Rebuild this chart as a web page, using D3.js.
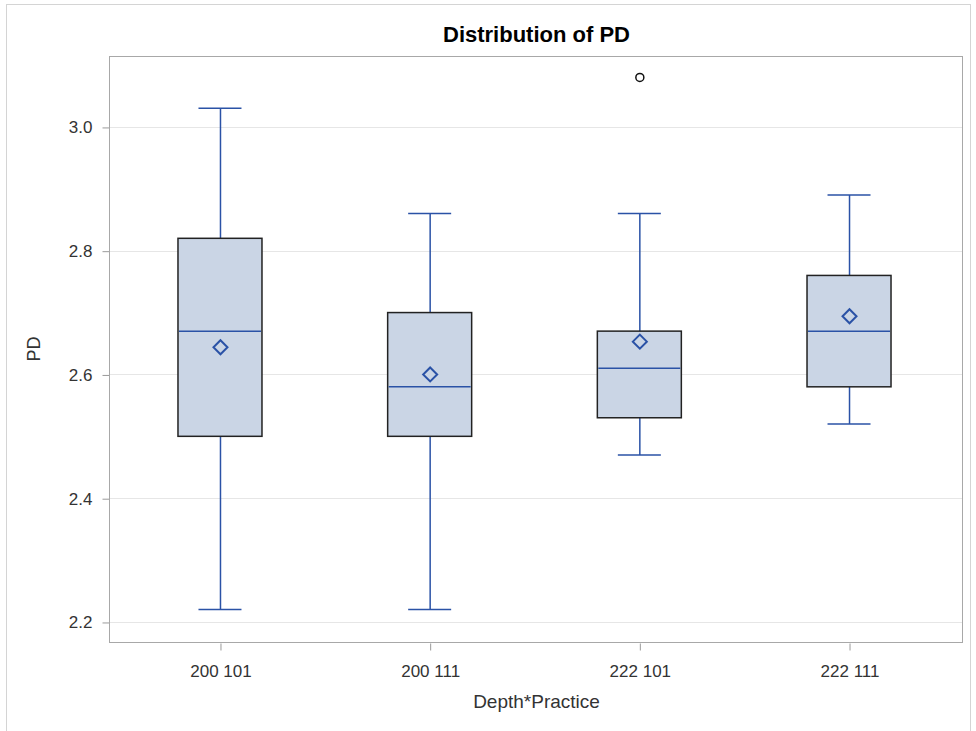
<!DOCTYPE html>
<html>
<head>
<meta charset="utf-8">
<script src="https://cdn.jsdelivr.net/npm/d3@7"></script>
<style>
  body { margin: 0; background: #fff; font-family: Arial, "Liberation Sans", sans-serif; }
</style>
</head>
<body>
<div id="chart"></div>
<script>
// data
var groups = ["200 101", "200 111", "222 101", "222 111"];
var whiskerLow = [2.22, 2.22, 2.47, 2.52];
var q1 = [2.50, 2.50, 2.53, 2.58];
var median = [2.67, 2.58, 2.61, 2.67];
var q3 = [2.82, 2.70, 2.67, 2.76];
var whiskerHigh = [3.03, 2.86, 2.86, 2.89];
var means = [2.644, 2.600, 2.653, 2.694];
var outliers = [[], [], [3.08], []];
var yTicks = [2.2, 2.4, 2.6, 2.8, 3.0];

var W = 976, H = 731;
var plot = { left: 110, right: 963, top: 57, bottom: 643 };
var lineColor = "#2A52A6";
var boxFill = "#CAD5E5";
var font = "Arial, 'Liberation Sans', sans-serif";

var svg = d3.select("#chart").append("svg")
    .attr("width", W)
    .attr("height", H);

// outer frame
svg.append("rect")
    .attr("x", 6.5).attr("y", 4.5)
    .attr("width", 964).attr("height", 740)
    .attr("fill", "none")
    .attr("stroke", "#D4D4D4");

var x = d3.scalePoint()
    .domain(groups)
    .range([plot.left, 959])
    .padding(0.5245);

var y = d3.scaleLinear()
    .domain([2.166, 3.113])
    .range([plot.bottom, plot.top]);

// grid lines
svg.append("g").selectAll("line")
    .data(yTicks)
    .enter().append("line")
    .attr("x1", plot.left).attr("x2", plot.right)
    .attr("y1", function(d) { return Math.round(y(d)) + 0.5; })
    .attr("y2", function(d) { return Math.round(y(d)) + 0.5; })
    .attr("stroke", "#E6E6E6");

// axes
var yAxis = d3.axisLeft(y).tickValues(yTicks).tickSize(7).tickSizeOuter(0)
    .tickFormat(d3.format(".1f"));
var gy = svg.append("g")
    .attr("transform", "translate(" + (plot.left - 0.5) + ",0.5)")
    .call(yAxis);
gy.select(".domain").remove();
gy.selectAll("line").attr("stroke", "#9A9A9A");
gy.selectAll("text")
    .attr("font-size", 17)
    .attr("font-family", font)
    .attr("fill", "#333")
    .attr("x", -17);

var xAxis = d3.axisBottom(x).tickSize(7).tickSizeOuter(0);
var gx = svg.append("g")
    .attr("transform", "translate(0.5," + (plot.bottom + 0.5) + ")")
    .call(xAxis);
gx.select(".domain").remove();
gx.selectAll("line").attr("stroke", "#9A9A9A");
gx.selectAll("text")
    .attr("font-size", 17)
    .attr("font-family", font)
    .attr("fill", "#333")
    .attr("dy", null)
    .attr("y", 33);

// plot frame
svg.append("rect")
    .attr("x", plot.left - 0.5).attr("y", plot.top - 0.5)
    .attr("width", plot.right - plot.left).attr("height", plot.bottom - plot.top)
    .attr("fill", "none")
    .attr("stroke", "#A8A8A8");

var boxW = 84, capW = 43;

var box = svg.selectAll(".box")
    .data(groups)
    .enter().append("g")
    .attr("class", "box");

// whiskers
box.append("line")
    .attr("x1", function(d) { return x(d) + 0.5; })
    .attr("x2", function(d) { return x(d) + 0.5; })
    .attr("y1", function(d, i) { return y(whiskerHigh[i]); })
    .attr("y2", function(d, i) { return y(q3[i]); })
    .attr("stroke", lineColor).attr("stroke-width", 1.5);
box.append("line")
    .attr("x1", function(d) { return x(d) + 0.5; })
    .attr("x2", function(d) { return x(d) + 0.5; })
    .attr("y1", function(d, i) { return y(q1[i]); })
    .attr("y2", function(d, i) { return y(whiskerLow[i]); })
    .attr("stroke", lineColor).attr("stroke-width", 1.5);
[whiskerHigh, whiskerLow].forEach(function(arr) {
    box.append("line")
        .attr("x1", function(d) { return x(d) - capW / 2; })
        .attr("x2", function(d) { return x(d) + capW / 2; })
        .attr("y1", function(d, i) { return y(arr[i]); })
        .attr("y2", function(d, i) { return y(arr[i]); })
        .attr("stroke", lineColor).attr("stroke-width", 1.5);
});

// boxes
box.append("rect")
    .attr("x", function(d) { return x(d) - boxW / 2; })
    .attr("y", function(d, i) { return y(q3[i]); })
    .attr("width", boxW)
    .attr("height", function(d, i) { return y(q1[i]) - y(q3[i]); })
    .attr("fill", boxFill)
    .attr("stroke", "#222")
    .attr("stroke-width", 1.5);

// medians
box.append("line")
    .attr("x1", function(d) { return x(d) - boxW / 2 + 1; })
    .attr("x2", function(d) { return x(d) + boxW / 2 - 1; })
    .attr("y1", function(d, i) { return y(median[i]); })
    .attr("y2", function(d, i) { return y(median[i]); })
    .attr("stroke", lineColor).attr("stroke-width", 1.5);

// means
var dsize = 7;
box.append("path")
    .attr("d", function(d, i) {
        var cx = x(d) + 0.5, cy = y(means[i]);
        return "M" + cx + "," + (cy - dsize) + "L" + (cx + dsize) + "," + cy +
            "L" + cx + "," + (cy + dsize) + "L" + (cx - dsize) + "," + cy + "Z";
    })
    .attr("fill", "none")
    .attr("stroke", lineColor)
    .attr("stroke-width", 2);

// outliers
box.each(function(d, i) {
    d3.select(this).selectAll("circle")
        .data(outliers[i])
        .enter().append("circle")
        .attr("cx", x(d) + 0.5)
        .attr("cy", function(v) { return y(v); })
        .attr("r", 4)
        .attr("fill", "none")
        .attr("stroke", "#111")
        .attr("stroke-width", 1.5);
});

// titles
svg.append("text")
    .attr("x", (plot.left + plot.right) / 2)
    .attr("y", 42)
    .attr("text-anchor", "middle")
    .attr("font-family", font)
    .attr("font-size", 22)
    .attr("font-weight", "bold")
    .attr("fill", "#000")
    .text("Distribution of PD");

svg.append("text")
    .attr("x", (plot.left + plot.right) / 2)
    .attr("y", 708)
    .attr("text-anchor", "middle")
    .attr("font-family", font)
    .attr("font-size", 19)
    .attr("fill", "#333")
    .text("Depth*Practice");

svg.append("text")
    .attr("transform", "translate(40," + 349 + ") rotate(-90)")
    .attr("text-anchor", "middle")
    .attr("font-family", font)
    .attr("font-size", 18)
    .attr("fill", "#333")
    .text("PD");
</script>
</body>
</html>
